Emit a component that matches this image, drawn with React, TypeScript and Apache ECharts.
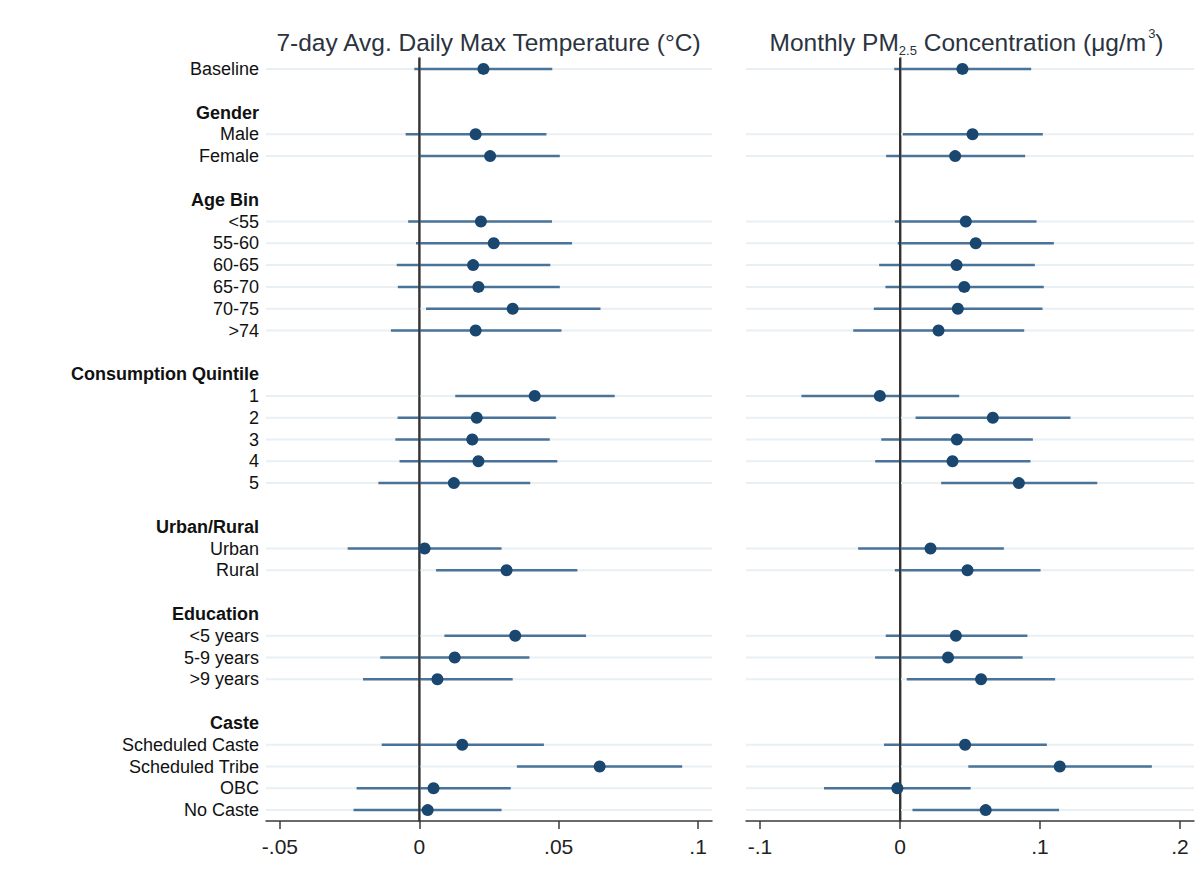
import React, { useEffect, useRef } from "react";
import * as echarts from "echarts";

// ---- Data ----
const groupHeaders = [null, "Gender", "Age Bin", "Consumption Quintile", "Urban/Rural", "Education", "Caste"];
const groupItems = [
  ["Baseline"],
  ["Male", "Female"],
  ["<55", "55-60", "60-65", "65-70", "70-75", ">74"],
  ["1", "2", "3", "4", "5"],
  ["Urban", "Rural"],
  ["<5 years", "5-9 years", ">9 years"],
  ["Scheduled Caste", "Scheduled Tribe", "OBC", "No Caste"],
];

// 7-day Avg. Daily Max Temperature (°C)
const tempPoint = [0.0230, 0.0202, 0.0254, 0.0221, 0.0267, 0.0193, 0.0212, 0.0335, 0.0202, 0.0414, 0.0206, 0.0190, 0.0212, 0.0124, 0.0019, 0.0313, 0.0344, 0.0127, 0.0065, 0.0154, 0.0647, 0.0051, 0.0030];
const tempLow = [-0.0018, -0.0049, 0.0002, -0.0040, -0.0012, -0.0081, -0.0077, 0.0024, -0.0102, 0.0129, -0.0078, -0.0086, -0.0071, -0.0147, -0.0257, 0.0060, 0.0090, -0.0140, -0.0202, -0.0135, 0.0350, -0.0225, -0.0236];
const tempHigh = [0.0477, 0.0456, 0.0504, 0.0476, 0.0548, 0.0470, 0.0504, 0.0650, 0.0510, 0.0701, 0.0490, 0.0468, 0.0495, 0.0398, 0.0295, 0.0567, 0.0598, 0.0395, 0.0335, 0.0447, 0.0943, 0.0328, 0.0295];

// Monthly PM2.5 Concentration (μg/m3)
const pmPoint = [0.0446, 0.0518, 0.0394, 0.0470, 0.0541, 0.0404, 0.0459, 0.0413, 0.0275, -0.0144, 0.0663, 0.0406, 0.0375, 0.0849, 0.0218, 0.0482, 0.0399, 0.0343, 0.0579, 0.0465, 0.1141, -0.0019, 0.0612];
const pmLow = [-0.0041, 0.0020, -0.0099, -0.0037, -0.0016, -0.0149, -0.0104, -0.0187, -0.0334, -0.0704, 0.0111, -0.0134, -0.0177, 0.0294, -0.0299, -0.0037, -0.0102, -0.0178, 0.0048, -0.0114, 0.0488, -0.0543, 0.0089];
const pmHigh = [0.0937, 0.1020, 0.0894, 0.0975, 0.1099, 0.0963, 0.1027, 0.1018, 0.0887, 0.0423, 0.1218, 0.0949, 0.0932, 0.1409, 0.0742, 0.1004, 0.0910, 0.0876, 0.1108, 0.1049, 0.1799, 0.0505, 0.1136];

const tempTicks = [-0.05, 0, 0.05, 0.1];
const pmTicks = [-0.1, 0, 0.1, 0.2];

const FONT = "'Liberation Sans', Arial, sans-serif";
const POINT_COLOR = "#1a476f";
const CI_COLOR = "#4a7399";
const GRID_COLOR = "#e8f0f3";
const TITLE_COLOR = "#2b3340";

// Build rows: label text, kind, and data row indices
type Row = { text: string; kind: "header" | "blank" | "item" };
const rows: Row[] = [];
const dataRowIdx: number[] = [];
groupItems.forEach((items, g) => {
  if (g > 0) {
    rows.push({ text: "", kind: "blank" });
    rows.push({ text: groupHeaders[g] as string, kind: "header" });
  }
  items.forEach((it) => {
    dataRowIdx.push(rows.length);
    rows.push({ text: it, kind: "item" });
  });
});

const tickFmt = (v: number) => {
  if (v === 0) return "0";
  return String(v).replace(/^(-?)0\./, "$1.");
};

export default function App() {
  const ref = useRef<HTMLDivElement>(null);
  useEffect(() => {
    if (!ref.current) return;
    const chart = echarts.init(ref.current, null, { renderer: "svg" });

    const makeX = (gridIndex: number, min: number, max: number, ticks: number[]) => ({
      type: "value",
      gridIndex,
      min,
      max,
      axisLine: { show: true, onZero: false, lineStyle: { color: "#3a3a3a", width: 1.5 } },
      axisTick: { show: true, length: 8, customValues: ticks, lineStyle: { color: "#3a3a3a", width: 1.5 } },
      axisLabel: { customValues: ticks, formatter: tickFmt, fontSize: 21, color: "#222", margin: 15, fontFamily: FONT },
      splitLine: { show: false },
    });

    const makeY = (gridIndex: number, showLabels: boolean) => ({
      type: "category",
      gridIndex,
      inverse: true,
      data: rows.map((_, i) => String(i)),
      axisLine: { show: true, lineStyle: { color: "#8c8c8c", width: 2.5 } },
      axisTick: { show: false },
      splitLine: { show: false },
      axisLabel: {
        show: showLabels,
        interval: 0,
        margin: 7,
        formatter: (_v: string, i: number) => {
          const r = rows[i];
          if (!r || r.kind === "blank") return "";
          return r.kind === "header" ? `{h|${r.text}}` : `{n|${r.text}}`;
        },
        rich: {
          h: { fontWeight: "bold", fontSize: 18, color: "#111", fontFamily: FONT },
          n: { fontSize: 18, color: "#111", fontFamily: FONT },
        },
      },
    });

    const gridSeries = (axisIdx: number, xmin: number) => ({
      type: "custom",
      xAxisIndex: axisIdx,
      yAxisIndex: axisIdx,
      z: 1,
      silent: true,
      encode: { x: 0, y: 1 },
      data: dataRowIdx.map((r) => [xmin, r]),
      renderItem: (params: any, api: any) => {
        const cs = params.coordSys;
        const y = api.coord([api.value(0), api.value(1)])[1];
        return {
          type: "line",
          shape: { x1: cs.x, y1: y, x2: cs.x + cs.width, y2: y },
          style: { stroke: GRID_COLOR, lineWidth: 2 },
        };
      },
    });

    const ciSeries = (axisIdx: number, lo: number[], hi: number[]) => ({
      type: "custom",
      xAxisIndex: axisIdx,
      yAxisIndex: axisIdx,
      z: 2,
      silent: true,
      encode: { x: [0, 1], y: 2 },
      data: dataRowIdx.map((r, k) => [lo[k], hi[k], r]),
      renderItem: (_params: any, api: any) => {
        const p1 = api.coord([api.value(0), api.value(2)]);
        const p2 = api.coord([api.value(1), api.value(2)]);
        return {
          type: "line",
          shape: { x1: p1[0], y1: p1[1], x2: p2[0], y2: p2[1] },
          style: { stroke: CI_COLOR, lineWidth: 2.5 },
        };
      },
    });

    const zeroSeries = (axisIdx: number) => ({
      type: "custom",
      xAxisIndex: axisIdx,
      yAxisIndex: axisIdx,
      z: 3,
      silent: true,
      encode: { x: 0, y: 1 },
      data: [[0, 0]],
      renderItem: (params: any, api: any) => {
        const cs = params.coordSys;
        const x = api.coord([api.value(0), api.value(1)])[0];
        return {
          type: "line",
          shape: { x1: x, y1: cs.y, x2: x, y2: cs.y + cs.height },
          style: { stroke: "#333", lineWidth: 2 },
        };
      },
    });

    const pointSeries = (axisIdx: number, pts: number[]) => ({
      type: "scatter",
      xAxisIndex: axisIdx,
      yAxisIndex: axisIdx,
      z: 4,
      symbol: "circle",
      symbolSize: 12,
      itemStyle: { color: POINT_COLOR, opacity: 1 },
      data: dataRowIdx.map((r, k) => [pts[k], r]),
    });

    chart.setOption({
      animation: false,
      textStyle: { fontFamily: FONT },
      grid: [
        { left: 266, top: 58, width: 446, height: 763 },
        { left: 746, top: 58, width: 448, height: 763 },
      ],
      xAxis: [makeX(0, -0.055, 0.105, tempTicks), makeX(1, -0.11, 0.21, pmTicks)],
      yAxis: [makeY(0, true), makeY(1, false)],
      graphic: [
        {
          type: "text",
          x: 488.5,
          y: 42,
          silent: true,
          style: {
            text: "7-day Avg. Daily Max Temperature (°C)",
            fontSize: 24.5,
            fontFamily: FONT,
            fill: TITLE_COLOR,
            align: "center",
            verticalAlign: "middle",
          },
        },
        {
          type: "text",
          x: 966.5,
          y: 42,
          silent: true,
          style: {
            text: "{m|Monthly PM}{sub|2.5}{m| Concentration (μg/m}{sup|3}{m|)}",
            align: "center",
            verticalAlign: "middle",
            rich: {
              m: { fontSize: 24.5, lineHeight: 30, fontFamily: FONT, fill: TITLE_COLOR, color: TITLE_COLOR },
              sub: { fontSize: 13, lineHeight: 18, verticalAlign: "bottom", fontFamily: FONT, fill: TITLE_COLOR, color: TITLE_COLOR },
              sup: { fontSize: 13, lineHeight: 12, verticalAlign: "top", fontFamily: FONT, fill: TITLE_COLOR, color: TITLE_COLOR, padding: [0, 0, 0, 2] },
            },
          },
        },
      ],
      series: [
        gridSeries(0, -0.055),
        ciSeries(0, tempLow, tempHigh),
        zeroSeries(0),
        pointSeries(0, tempPoint),
        gridSeries(1, -0.11),
        ciSeries(1, pmLow, pmHigh),
        zeroSeries(1),
        pointSeries(1, pmPoint),
      ],
    });

    return () => chart.dispose();
  }, []);

  return (
    <div
      ref={ref}
      style={{ position: "absolute", left: 0, top: 0, width: 1204, height: 882, background: "#fff" }}
    />
  );
}
